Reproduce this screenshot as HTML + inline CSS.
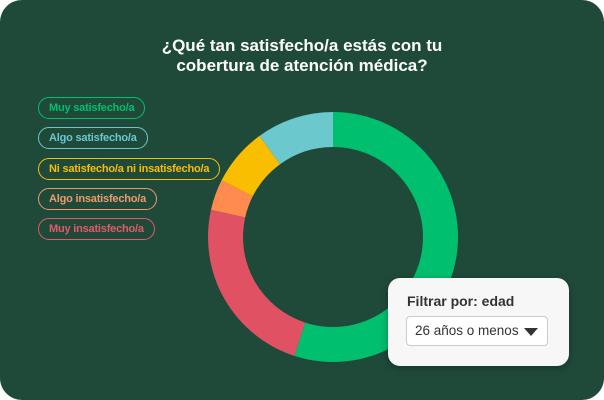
<!DOCTYPE html>
<html><head><meta charset="utf-8"><style>
body{margin:0;width:604px;height:400px;background:#fff;overflow:hidden;font-family:"Liberation Sans",sans-serif}
#card{position:absolute;left:0;top:0;width:604px;height:400px;background:#1f4a3a;border-radius:22px;overflow:hidden}
#title{position:absolute;left:0;width:604px;top:36px;text-align:center;color:#fff;font-weight:bold;font-size:17px;line-height:20px}
.pill{position:absolute;left:38px;height:22px;box-sizing:border-box;border:1.5px solid;border-radius:12px;padding:0 10px;font-size:11px;font-weight:bold;letter-spacing:-0.2px;display:flex;align-items:center}
#filter{position:absolute;left:388px;top:278px;width:181px;height:88px;background:#f7f7f7;border-radius:12px;box-shadow:0 2px 8px rgba(0,0,0,.3)}
</style></head><body>
<div id="card">
<div id="title">¿Qué tan satisfecho/a estás con tu<br>cobertura de atención médica?</div>
<div class="pill" style="top:97px;color:#00bf6f;border-color:#00bf6f">Muy satisfecho/a</div>
<div class="pill" style="top:127px;color:#6bc8cd;border-color:#6bc8cd">Algo satisfecho/a</div>
<div class="pill" style="top:158px;color:#f9be00;border-color:#f9be00">Ni satisfecho/a ni insatisfecho/a</div>
<div class="pill" style="top:188px;color:#ef9a6a;border-color:#ef9a6a">Algo insatisfecho/a</div>
<div class="pill" style="top:218px;color:#e05a6a;border-color:#e05a6a">Muy insatisfecho/a</div>
<svg id="donut" width="604" height="400" style="position:absolute;left:0;top:0"></svg>
<div id="filter">
<div style="position:absolute;left:19px;top:15px;font-size:14px;font-weight:bold;color:#333">Filtrar por: edad</div>
<div style="position:absolute;left:18px;top:38px;width:142px;height:30px;background:#fff;border:1px solid #ccc;border-radius:4px;box-sizing:border-box">
<span style="position:absolute;left:8px;top:6px;font-size:13.5px;color:#333">26 años o menos</span>
<span style="position:absolute;right:9px;top:11px;width:0;height:0;border-left:7px solid transparent;border-right:7px solid transparent;border-top:8px solid #333"></span>
</div></div>
</div>
<script>
const categories=["Muy satisfecho/a","Muy insatisfecho/a","Algo insatisfecho/a","Ni satisfecho/a ni insatisfecho/a","Algo satisfecho/a"];
const values=[55,23.5,4,7.5,10];
const colors=["#00bf6f","#e05263","#ff8b4f","#f9be00","#6bc8cd"];
const svg=document.getElementById('donut');
const cx=333,cy=237,R=125,r=90;
const total=values.reduce((a,b)=>a+b,0);
function pt(a,rad){return [cx+rad*Math.sin(a),cy-rad*Math.cos(a)];}
let acc=0;
values.forEach((v,i)=>{
 const a0=acc/total*2*Math.PI;acc+=v;const a1=acc/total*2*Math.PI;
 const lg=(a1-a0)>Math.PI?1:0;
 const [x0,y0]=pt(a0,R),[x1,y1]=pt(a1,R),[x2,y2]=pt(a1,r),[x3,y3]=pt(a0,r);
 const p=document.createElementNS('http://www.w3.org/2000/svg','path');
 p.setAttribute('d',`M${x0},${y0}A${R},${R} 0 ${lg} 1 ${x1},${y1}L${x2},${y2}A${r},${r} 0 ${lg} 0 ${x3},${y3}Z`);
 p.setAttribute('fill',colors[i]);
 
 
 svg.appendChild(p);
});
</script>
</body></html>
